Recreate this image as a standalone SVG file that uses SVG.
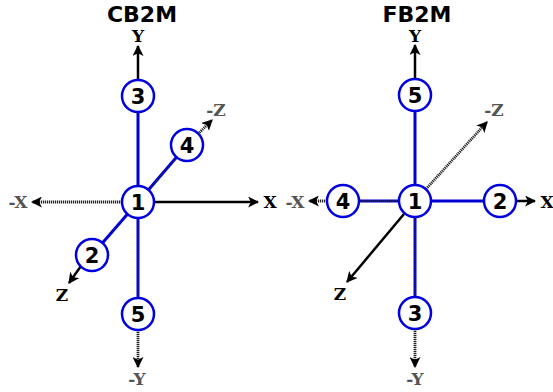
<svg xmlns="http://www.w3.org/2000/svg" width="553" height="392" viewBox="0 0 553 392">
  <defs>
    <marker id="arrow" viewBox="0 0 10 10" refX="9" refY="5" markerWidth="11" markerHeight="11" markerUnits="userSpaceOnUse" orient="auto">
      <path d="M10,5 L0,0 L2.5,5 L0,10 Z" fill="#000"/>
    </marker>
  </defs>
  <style>
    .title { font-family: "DejaVu Sans", sans-serif; font-weight: bold; font-size: 22px; fill: #000; text-anchor: middle; }
    .axis { fill: none; stroke: #000; stroke-width: 2.5; }
    .neg { fill: none; stroke: #222; stroke-width: 2.8; stroke-dasharray: 1.2 0.8; }
    .lbl { font-family: "DejaVu Serif", serif; font-weight: bold; font-size: 17px; fill: #000; text-anchor: middle; }
    .nlbl { font-family: "DejaVu Serif", serif; font-weight: bold; font-size: 17px; fill: #555; text-anchor: middle; }
    .edge { fill: none; stroke: #0000d0; stroke-width: 3; }
    .edge-neg { fill: none; stroke: #333; stroke-width: 1; stroke-dasharray: 1 1; }
    .node circle { fill: #fff; stroke: #0000e0; stroke-width: 2.5; }
    .node text { font-family: "DejaVu Sans", sans-serif; font-weight: bold; font-size: 21px; fill: #000; text-anchor: middle; }
  </style>

  <!-- CB2M -->
  <text class="title" x="142" y="22">CB2M</text>
  <g id="cb2m-axes">
    <line class="axis" x1="138" y1="80" x2="138" y2="46" marker-end="url(#arrow)"/>
    <line class="axis" x1="154" y1="202" x2="258" y2="202" marker-end="url(#arrow)"/>
    <line class="neg" x1="122" y1="202" x2="32" y2="202" marker-end="url(#arrow)"/>
    <line class="neg" x1="198" y1="134" x2="212" y2="120" marker-end="url(#arrow)"/>
    <line class="axis" x1="81" y1="266" x2="69" y2="283" marker-end="url(#arrow)"/>
    <line class="neg" x1="138" y1="330" x2="138" y2="367" marker-end="url(#arrow)"/>
    <text class="lbl" x="138" y="42">Y</text>
    <text class="lbl" x="270" y="208">X</text>
    <text class="nlbl" x="18" y="208">-X</text>
    <text class="nlbl" x="216" y="116">-Z</text>
    <text class="lbl" x="62" y="301">Z</text>
    <text class="nlbl" x="137" y="385">-Y</text>
  </g>
  <g id="cb2m-edges">
    <line class="edge" x1="138" y1="202" x2="138" y2="96"/>
    <line class="edge" x1="138" y1="202" x2="187" y2="145"/>
    <line class="edge-neg" x1="138" y1="202" x2="187" y2="145"/>
    <line class="edge" x1="138" y1="202" x2="92" y2="255"/>
    <line class="edge" x1="138" y1="202" x2="138" y2="314"/>
    <line class="edge-neg" x1="138" y1="202" x2="138" y2="314"/>
  </g>
  <g id="cb2m-n3" class="node"><circle cx="138" cy="96" r="16"/><text x="138" y="104">3</text></g>
  <g id="cb2m-n4" class="node"><circle cx="187" cy="145" r="16"/><text x="187" y="153">4</text></g>
  <g id="cb2m-n2" class="node"><circle cx="92" cy="255" r="16"/><text x="92" y="263">2</text></g>
  <g id="cb2m-n5" class="node"><circle cx="138" cy="314" r="16"/><text x="138" y="322">5</text></g>
  <g id="cb2m-n1" class="node"><circle cx="138" cy="202" r="16"/><text x="138" y="210">1</text></g>

  <!-- FB2M -->
  <text class="title" x="417" y="22">FB2M</text>
  <g id="fb2m-axes">
    <line class="axis" x1="415" y1="79" x2="415" y2="45" marker-end="url(#arrow)"/>
    <line class="axis" x1="516" y1="201" x2="535" y2="201" marker-end="url(#arrow)"/>
    <line class="neg" x1="327" y1="201" x2="309" y2="201" marker-end="url(#arrow)"/>
    <line class="neg" x1="426" y1="189" x2="487" y2="122" marker-end="url(#arrow)"/>
    <line class="axis" x1="404" y1="214" x2="347" y2="282" marker-end="url(#arrow)"/>
    <line class="neg" x1="415" y1="329" x2="415" y2="367" marker-end="url(#arrow)"/>
    <text class="lbl" x="415" y="42">Y</text>
    <text class="lbl" x="547" y="208">X</text>
    <text class="nlbl" x="295" y="208">-X</text>
    <text class="nlbl" x="494" y="116">-Z</text>
    <text class="lbl" x="340" y="300">Z</text>
    <text class="nlbl" x="415" y="385">-Y</text>
  </g>
  <g id="fb2m-edges">
    <line class="edge" x1="415" y1="202" x2="415" y2="95"/>
    <line class="edge" x1="415" y1="201" x2="500" y2="201"/>
    <line class="edge" x1="415" y1="201" x2="343" y2="201"/>
    <line class="edge-neg" x1="415" y1="201" x2="343" y2="201"/>
    <line class="edge" x1="415" y1="202" x2="415" y2="313"/>
    <line class="edge-neg" x1="415" y1="202" x2="415" y2="313"/>
  </g>
  <g id="fb2m-n5" class="node"><circle cx="415" cy="95" r="16"/><text x="415" y="103">5</text></g>
  <g id="fb2m-n2" class="node"><circle cx="500" cy="201" r="16"/><text x="500" y="209">2</text></g>
  <g id="fb2m-n4" class="node"><circle cx="343" cy="201" r="16"/><text x="343" y="209">4</text></g>
  <g id="fb2m-n3" class="node"><circle cx="415" cy="313" r="16"/><text x="415" y="321">3</text></g>
  <g id="fb2m-n1" class="node"><circle cx="415" cy="201" r="16"/><text x="415" y="209">1</text></g>
</svg>
